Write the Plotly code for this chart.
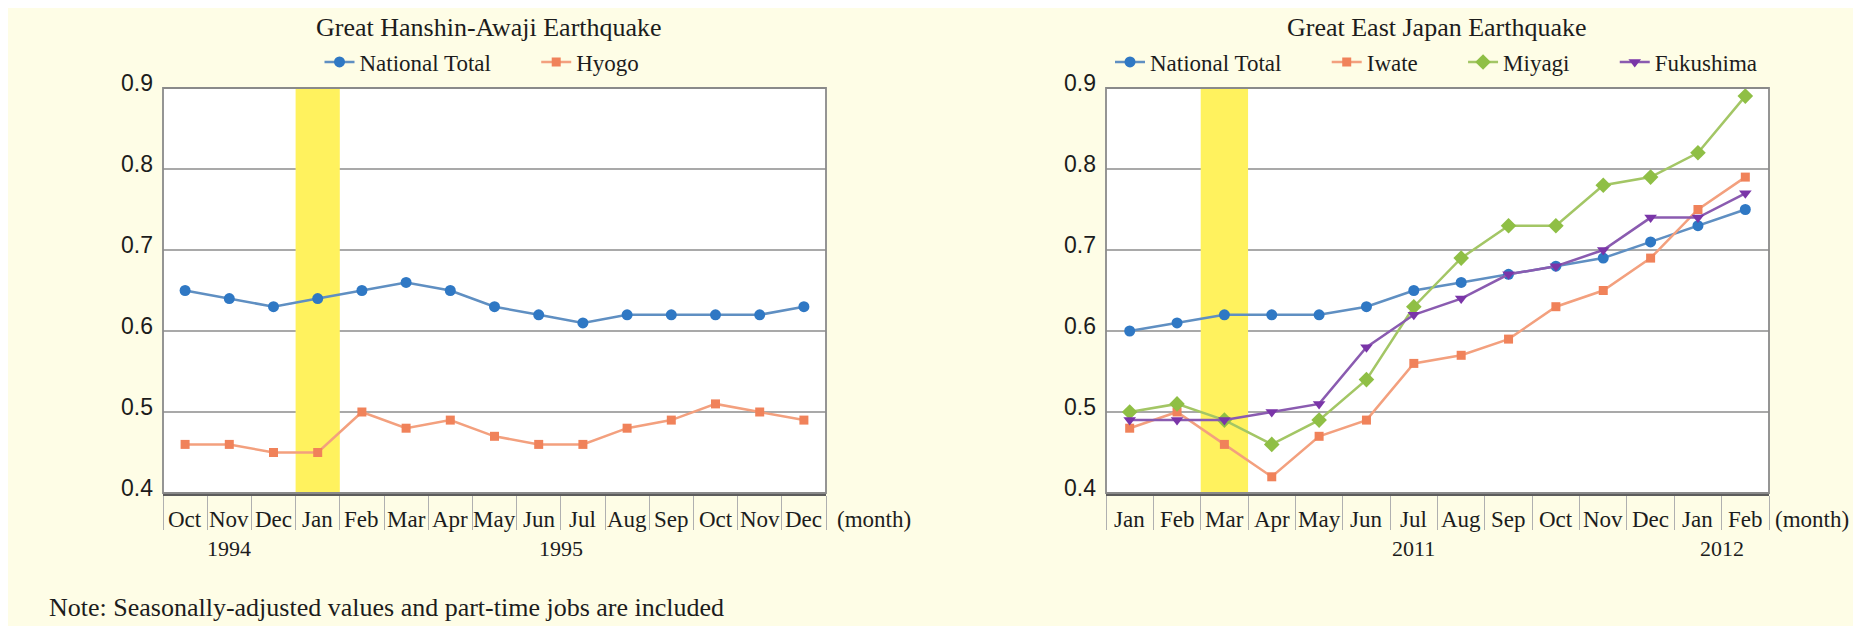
import plotly.graph_objects as go

W, H = 1861, 626
OFFX = 8  # page offset (body margin) in the browser
OFFY = 8

# ---------------- data ----------------
months_a = ["Oct", "Nov", "Dec", "Jan", "Feb", "Mar", "Apr", "May", "Jun", "Jul",
            "Aug", "Sep", "Oct", "Nov", "Dec"]
national_a = [0.65, 0.64, 0.63, 0.64, 0.65, 0.66, 0.65, 0.63, 0.62, 0.61,
              0.62, 0.62, 0.62, 0.62, 0.63]
hyogo = [0.46, 0.46, 0.45, 0.45, 0.50, 0.48, 0.49, 0.47, 0.46, 0.46,
         0.48, 0.49, 0.51, 0.50, 0.49]
years_a = ["1994", "1995"]
years_a_pos = [1, 8.5]
long_div_a = [-0.5, 2.5, 7.5, 9.5, 14.5]
quake_a = 3  # Jan 1995

months_b = ["Jan", "Feb", "Mar", "Apr", "May", "Jun", "Jul", "Aug", "Sep", "Oct",
            "Nov", "Dec", "Jan", "Feb"]
national_b = [0.60, 0.61, 0.62, 0.62, 0.62, 0.63, 0.65, 0.66, 0.67, 0.68,
              0.69, 0.71, 0.73, 0.75]
iwate = [0.48, 0.50, 0.46, 0.42, 0.47, 0.49, 0.56, 0.57, 0.59, 0.63,
         0.65, 0.69, 0.75, 0.79]
miyagi = [0.50, 0.51, 0.49, 0.46, 0.49, 0.54, 0.63, 0.69, 0.73, 0.73,
          0.78, 0.79, 0.82, 0.89]
fukushima = [0.49, 0.49, 0.49, 0.50, 0.51, 0.58, 0.62, 0.64, 0.67, 0.68,
             0.70, 0.74, 0.74, 0.77]
years_b = ["2011", "2012"]
years_b_pos = [6, 12.5]
long_div_b = [-0.5, 11.5, 13.5]
quake_b = 2  # Mar 2011

title_a = "Great Hanshin-Awaji Earthquake"
title_b = "Great East Japan Earthquake"
note = "Note: Seasonally-adjusted values and part-time jobs are included"

# ---------------- style ----------------
SERIF = "Liberation Serif, Times New Roman, serif"
SANS = "Liberation Sans, Arial, sans-serif"
TXT = "#1c1c1c"
BG = "#fefde6"
GRID = "#a9a9a9"
BORDER = "#8a8a8a"
AXIS = "#5c5c5c"
YELLOW = "#fff25e"

BLUE_M, BLUE_L = "#2f78c4", "#5f8fc2"
ORG_M, ORG_L = "#f0825a", "#f3a07e"
GRN_M, GRN_L = "#8fbf45", "#a3c665"
PUR_M, PUR_L = "#7a35a8", "#8a5bb0"


def px(x):
    return (x - OFFX) / W


def py(y):
    return (H - (y - OFFY)) / H


dom_a = [px(163), px(826)]
dom_b = [px(1106), px(1769)]
ydom = [py(493), py(88)]

fig = go.Figure()

xa = list(range(len(months_a)))
xb = list(range(len(months_b)))
SP = "\u00a0" * 7


def add(x, y, name, mc, lc, sym, size, xref, yref, legend):
    fig.add_trace(go.Scatter(
        x=x, y=y, name=name, mode="lines+markers",
        line=dict(color=lc, width=2.5),
        marker=dict(color=mc, symbol=sym, size=size),
        xaxis=xref, yaxis=yref, legend=legend, hoverinfo="x+y"))


add(xa, national_a, "National Total" + SP, BLUE_M, BLUE_L, "circle", 11, "x", "y", "legend")
add(xa, hyogo, "Hyogo", ORG_M, ORG_L, "square", 9, "x", "y", "legend")
add(xb, national_b, "National Total" + SP, BLUE_M, BLUE_L, "circle", 11, "x2", "y2", "legend2")
add(xb, iwate, "Iwate" + SP, ORG_M, ORG_L, "square", 9, "x2", "y2", "legend2")
add(xb, miyagi, "Miyagi" + SP, GRN_M, GRN_L, "diamond", 12, "x2", "y2", "legend2")
add(xb, fukushima, "Fukushima", PUR_M, PUR_L, "triangle-down", 11, "x2", "y2", "legend2")


def xaxis_cfg(domain, n, long_div, anchor):
    return dict(
        domain=domain, anchor=anchor, range=[-0.5, n - 0.5],
        showgrid=False, zeroline=False, automargin=False,
        showline=True, linecolor=AXIS, linewidth=3,
        tickmode="array", tickvals=long_div, ticktext=[""] * len(long_div),
        ticks="outside", ticklen=66, tickwidth=1.5, tickcolor="#9a9a9a",
        minor=dict(tickmode="array", tickvals=[i - 0.5 for i in range(n + 1)],
                   ticks="outside", ticklen=34, tickwidth=1.2, tickcolor="#b0b0b0"),
        fixedrange=True)


def yaxis_cfg(anchor):
    return dict(
        domain=ydom, anchor=anchor, range=[0.4, 0.9], dtick=0.1, tick0=0.4,
        tickformat=".1f", showgrid=True, gridcolor=GRID, gridwidth=1.8,
        zeroline=False, showline=False, ticks="", ticklabelstandoff=9,
        ticklabelshift=-5, automargin=False,
        tickfont=dict(family=SANS, size=23, color=TXT), fixedrange=True)


shapes = []
annotations = []

for xr, yr, q in (("x", "y", quake_a), ("x2", "y2", quake_b)):
    shapes.append(dict(type="rect", xref=xr, yref=yr, x0=q - 0.5, x1=q + 0.5,
                       y0=0.4, y1=0.9, fillcolor=YELLOW, line=dict(width=0),
                       layer="between"))
    shapes.append(dict(type="rect", xref=xr + " domain", yref=yr + " domain",
                       x0=0, x1=1, y0=0, y1=1, line=dict(color=BORDER, width=1.8),
                       layer="above"))

y_month = py(519)
y_year = py(548)

for xr, months, years, ypos, mshift in (("x", months_a, years_a, years_a_pos, 9),
                                        ("x2", months_b, years_b, years_b_pos, 4)):
    for i, m in enumerate(months):
        annotations.append(dict(text=m, x=i, xref=xr, y=y_month, yref="paper",
                                showarrow=False, xanchor="center", yanchor="middle",
                                font=dict(family=SERIF, size=23, color=TXT)))
    for yv, p in zip(years, ypos):
        annotations.append(dict(text=yv, x=p, xref=xr, y=y_year, yref="paper",
                                showarrow=False, xanchor="center", yanchor="middle",
                                font=dict(family=SERIF, size=22, color=TXT)))
    annotations.append(dict(text="(month)", x=1, xref=xr + " domain", xshift=mshift,
                            y=y_month, yref="paper", showarrow=False,
                            xanchor="left", yanchor="middle",
                            font=dict(family=SERIF, size=23, color=TXT)))

annotations.append(dict(text=title_a, x=px(489), xref="paper", y=py(27),
                        yref="paper", showarrow=False, xanchor="center", yanchor="middle",
                        font=dict(family=SERIF, size=26, color=TXT)))
annotations.append(dict(text=title_b, x=px(1437), xref="paper", y=py(27),
                        yref="paper", showarrow=False, xanchor="center", yanchor="middle",
                        font=dict(family=SERIF, size=26, color=TXT)))
annotations.append(dict(text=note, x=px(47), xref="paper", y=py(607),
                        yref="paper", showarrow=False, xanchor="left", yanchor="middle",
                        font=dict(family=SERIF, size=26, color=TXT)))

legend_common = dict(orientation="h", yanchor="middle", xanchor="center",
                     bgcolor="rgba(0,0,0,0)",
                     font=dict(family=SERIF, size=23, color=TXT),
                     itemsizing="trace", tracegroupgap=0)

fig.update_layout(
    width=W, height=H, autosize=False,
    margin=dict(l=0, r=0, t=0, b=0, pad=0, autoexpand=False),
    paper_bgcolor=BG, plot_bgcolor="#ffffff",
    xaxis=xaxis_cfg(dom_a, len(months_a), long_div_a, "y"),
    yaxis=yaxis_cfg("x"),
    xaxis2=xaxis_cfg(dom_b, len(months_b), long_div_b, "y2"),
    yaxis2=yaxis_cfg("x2"),
    legend=dict(x=px(482), y=py(62), **legend_common),
    legend2=dict(x=px(1436), y=py(62), **legend_common),
    shapes=shapes, annotations=annotations,
    showlegend=True,
)

fig.write_html("out.html")
